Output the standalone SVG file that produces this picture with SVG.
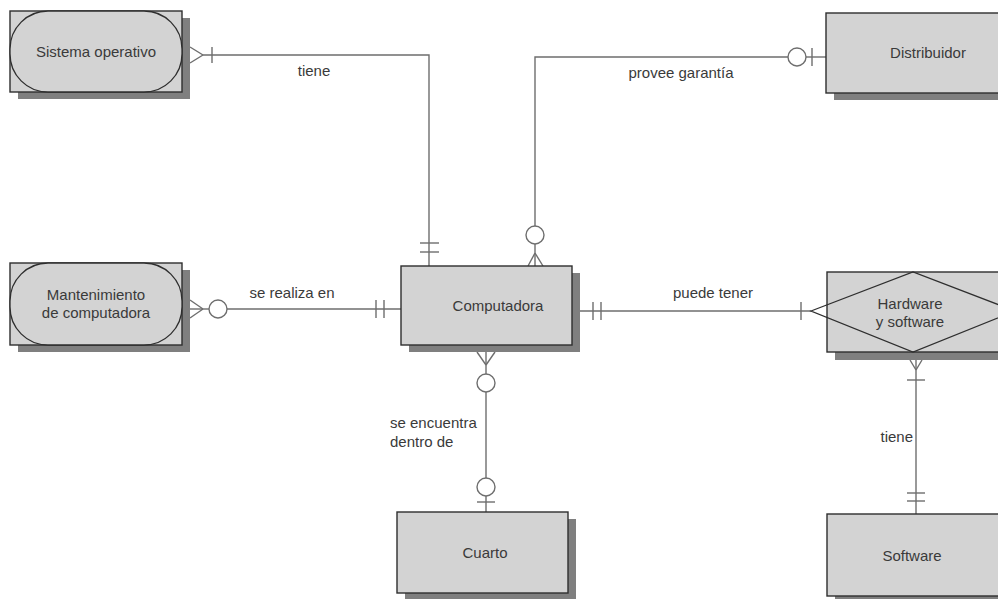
<svg xmlns="http://www.w3.org/2000/svg" width="998" height="599" viewBox="0 0 998 599">
<style>
.bg{fill:#ffffff}
.shadow{fill:#7f7f7f}
.box{fill:#d3d3d3;stroke:#2e2e2e;stroke-width:1.4}
.inner{fill:#d3d3d3;stroke:#2e2e2e;stroke-width:1.3}
.ln{fill:none;stroke:#6e6e6e;stroke-width:1.4}
.t{font-family:"Liberation Sans",Arial,sans-serif;font-size:15px;fill:#3a3a3a}
.c{text-anchor:middle}
</style>
<rect class="bg" x="0" y="0" width="998" height="599"/>

<g id="connectors">
  <!-- Sistema operativo - Computadora -->
  <polyline class="ln" points="203,55 429,55 429,266"/>
  <line class="ln" x1="190" y1="47" x2="203" y2="55"/>
  <line class="ln" x1="190" y1="63" x2="203" y2="55"/>
  <line class="ln" x1="212" y1="47" x2="212" y2="63"/>
  <line class="ln" x1="420" y1="243" x2="439" y2="243"/>
  <line class="ln" x1="420" y1="252" x2="439" y2="252"/>
  <text class="t c" x="314" y="76">tiene</text>

  <!-- Distribuidor - Computadora -->
  <polyline class="ln" points="535,226 535,57 788,57"/>
  <line class="ln" x1="806" y1="57" x2="826" y2="57"/>
  <circle class="ln" cx="797" cy="57" r="9"/>
  <line class="ln" x1="812" y1="48" x2="812" y2="66"/>
  <circle class="ln" cx="535" cy="235" r="9"/>
  <line class="ln" x1="535" y1="244" x2="535" y2="266"/>
  <line class="ln" x1="528" y1="266" x2="535" y2="253"/>
  <line class="ln" x1="543" y1="266" x2="535" y2="253"/>
  <text class="t c" x="681" y="78">provee garantía</text>

  <!-- Mantenimiento - Computadora -->
  <line class="ln" x1="190" y1="300" x2="203" y2="309"/>
  <line class="ln" x1="190" y1="318" x2="203" y2="309"/>
  <line class="ln" x1="190" y1="309" x2="209" y2="309"/>
  <circle class="ln" cx="218" cy="309" r="9"/>
  <line class="ln" x1="227" y1="309" x2="401" y2="309"/>
  <line class="ln" x1="376" y1="300" x2="376" y2="318"/>
  <line class="ln" x1="384" y1="300" x2="384" y2="318"/>
  <text class="t c" x="292" y="298">se realiza en</text>

  <!-- Computadora - Hardware y software -->
  <line class="ln" x1="572" y1="311" x2="811" y2="311"/>
  <line class="ln" x1="593" y1="302" x2="593" y2="320"/>
  <line class="ln" x1="601" y1="302" x2="601" y2="320"/>
  <line class="ln" x1="801" y1="302" x2="801" y2="320"/>
  <text class="t c" x="713" y="298">puede tener</text>

  <!-- Computadora - Cuarto -->
  <line class="ln" x1="486" y1="352" x2="486" y2="374"/>
  <line class="ln" x1="477" y1="352" x2="486" y2="365"/>
  <line class="ln" x1="495" y1="352" x2="486" y2="365"/>
  <circle class="ln" cx="486" cy="383" r="9"/>
  <line class="ln" x1="486" y1="392" x2="486" y2="478"/>
  <circle class="ln" cx="486" cy="487" r="9"/>
  <line class="ln" x1="486" y1="496" x2="486" y2="512"/>
  <line class="ln" x1="477" y1="502" x2="495" y2="502"/>
  <text class="t" x="390" y="428">se encuentra</text>
  <text class="t" x="390" y="447">dentro de</text>

  <!-- Hardware y software - Software -->
  <line class="ln" x1="916" y1="360" x2="916" y2="514"/>
  <line class="ln" x1="910" y1="360" x2="916" y2="370"/>
  <line class="ln" x1="922" y1="360" x2="916" y2="370"/>
  <line class="ln" x1="907" y1="380" x2="925" y2="380"/>
  <line class="ln" x1="907" y1="493" x2="925" y2="493"/>
  <line class="ln" x1="907" y1="501" x2="925" y2="501"/>
  <text class="t" x="913" y="442" text-anchor="end">tiene</text>
</g>

<g id="sistema-operativo">
  <rect class="shadow" x="18" y="18" width="172" height="81"/>
  <rect class="box" x="10" y="11" width="172" height="81"/>
  <rect class="inner" x="10" y="11" width="172" height="81" rx="38" ry="38"/>
  <text class="t c" x="96" y="57">Sistema operativo</text>
</g>

<g id="distribuidor">
  <rect class="shadow" x="834" y="20" width="180" height="80"/>
  <rect class="box" x="826" y="13" width="180" height="80"/>
  <text class="t c" x="928" y="58">Distribuidor</text>
</g>

<g id="mantenimiento">
  <rect class="shadow" x="18" y="270" width="172" height="82"/>
  <rect class="box" x="10" y="263" width="172" height="82"/>
  <rect class="inner" x="10" y="263" width="172" height="82" rx="38" ry="38"/>
  <text class="t c" x="96" y="300">Mantenimiento</text>
  <text class="t c" x="96" y="318">de computadora</text>
</g>

<g id="computadora">
  <rect class="shadow" x="409" y="273" width="171" height="79"/>
  <rect class="box" x="401" y="266" width="171" height="79"/>
  <text class="t c" x="498" y="311">Computadora</text>
</g>

<g id="hardware-software">
  <rect class="shadow" x="835" y="279" width="180" height="81"/>
  <rect class="box" x="827" y="272" width="180" height="80"/>
  <polygon class="inner" points="811,311 913,272 1015,311 913,352" style="fill:none"/>
  <text class="t c" x="910" y="309">Hardware</text>
  <text class="t c" x="910" y="327">y software</text>
</g>

<g id="cuarto">
  <rect class="shadow" x="405" y="519" width="171" height="80"/>
  <rect class="box" x="397" y="512" width="171" height="81"/>
  <text class="t c" x="485" y="558">Cuarto</text>
</g>

<g id="software">
  <rect class="shadow" x="835" y="521" width="180" height="85"/>
  <rect class="box" x="827" y="514" width="180" height="82"/>
  <text class="t c" x="912" y="561">Software</text>
</g>
</svg>
